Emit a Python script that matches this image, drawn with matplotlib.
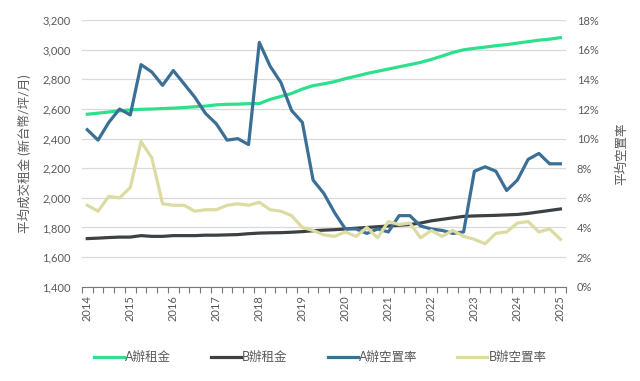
import matplotlib
matplotlib.use("Agg")
import matplotlib.pyplot as plt
import numpy as np

plt.rcParams['font.family'] = ['Lato', 'Noto Sans CJK TC', 'DejaVu Sans']

# quarterly, 2014Q1 .. 2025Q1
years = ['2014', '2015', '2016', '2017', '2018', '2019', '2020',
         '2021', '2022', '2023', '2024', '2025']

a_rent = [2565, 2572, 2580, 2588, 2594, 2598, 2600, 2603, 2606, 2610,
          2615, 2620, 2628, 2632, 2633, 2636, 2637, 2665, 2685, 2705,
          2735, 2758, 2770, 2785, 2805, 2822, 2840, 2855, 2870, 2885,
          2900, 2915, 2935, 2958, 2982, 3000, 3010, 3018, 3028, 3035,
          3045, 3055, 3065, 3072, 3082]
b_rent = [1725, 1728, 1732, 1735, 1735, 1745, 1740, 1740, 1745, 1745,
          1745, 1748, 1748, 1750, 1752, 1758, 1762, 1764, 1765, 1768,
          1772, 1778, 1782, 1785, 1790, 1795, 1800, 1805, 1810, 1815,
          1820, 1830, 1845, 1855, 1865, 1875, 1878, 1880, 1882, 1885,
          1888, 1895, 1905, 1915, 1925]
a_vac = [10.6, 9.9, 11.1, 12.0, 11.6, 15.0, 14.5, 13.6, 14.6, 13.7,
         12.8, 11.7, 11.0, 9.9, 10.0, 9.6, 16.5, 14.9, 13.8, 11.9,
         11.1, 7.2, 6.3, 5.0, 3.9, 3.9, 3.6, 3.9, 3.7, 4.8,
         4.8, 4.1, 3.9, 3.8, 3.6, 3.7, 7.8, 8.1, 7.8, 6.5,
         7.2, 8.6, 9.0, 8.3, 8.3]
b_vac = [5.5, 5.1, 6.1, 6.0, 6.7, 9.8, 8.7, 5.6, 5.5, 5.5,
         5.1, 5.2, 5.2, 5.5, 5.6, 5.5, 5.7, 5.2, 5.1, 4.8,
         4.0, 3.8, 3.5, 3.4, 3.7, 3.4, 4.0, 3.3, 4.4, 4.2,
         4.3, 3.3, 3.8, 3.4, 3.8, 3.4, 3.2, 2.9, 3.6, 3.7,
         4.3, 4.4, 3.7, 3.9, 3.2]

c_a_rent = '#2ee08c'
c_b_rent = '#3c4244'
c_a_vac = '#3b6f96'
c_b_vac = '#dcdba2'
txt = '#595959'

x = np.arange(len(a_rent))

fig = plt.figure(figsize=(6.4, 3.81), dpi=100)
ax = fig.add_axes([0.128, 0.2475, 0.756, 0.6995])
ax2 = ax.twinx()

l1, = ax.plot(x, a_rent, color=c_a_rent, lw=2.3, label='A辦租金')
l2, = ax.plot(x, b_rent, color=c_b_rent, lw=2.3, label='B辦租金')
l3, = ax2.plot(x, a_vac, color=c_a_vac, lw=2.3, label='A辦空置率')
l4, = ax2.plot(x, b_vac, color=c_b_vac, lw=2.3, label='B辦空置率')

ax.set_xlim(-0.5, len(x) - 0.5)
ax.set_ylim(1400, 3200)
ax2.set_ylim(0, 18)
ax.set_yticks(range(1400, 3201, 200))
ax.set_yticklabels([f'{v:,}' for v in range(1400, 3201, 200)])
ax2.set_yticks(range(0, 19, 2))
ax2.set_yticklabels([f'{v}%' for v in range(0, 19, 2)])

ax.set_xticks(x[::4])
ax.set_xticklabels(years, rotation=90)
ax.set_xticks(np.arange(-0.5, len(x), 1), minor=True)
ax.tick_params(axis='x', which='major', length=0, pad=6, labelsize=8, colors=txt)
ax.tick_params(axis='x', which='minor', length=4, width=0.8, color='#777777')
ax.tick_params(axis='y', length=0, labelsize=8, colors=txt, pad=8)
ax2.tick_params(axis='y', length=0, labelsize=8, colors=txt, pad=8)

ax.grid(axis='y', color='#d9d9d9', lw=0.9)
ax.set_axisbelow(True)
for a in (ax, ax2):
    for s in ['top', 'right', 'left']:
        a.spines[s].set_visible(False)
    a.spines['bottom'].set_color('#777777')
    a.spines['bottom'].set_linewidth(0.8)
ax2.spines['bottom'].set_visible(False)

ax.set_ylabel('平均成交租金 (新台幣/坪/月)', fontsize=9, color=txt, labelpad=8)
ax2.set_ylabel('平均空置率', fontsize=9, color=txt, rotation=90, labelpad=12)

fig.legend(handles=[l1, l2, l3, l4], loc='center', bbox_to_anchor=(0.5, 0.063),
           ncol=4, frameon=False, fontsize=9, handlelength=2.4,
           handletextpad=0.1, columnspacing=3.2, labelcolor=txt)

fig.savefig('out.png', dpi=100)
